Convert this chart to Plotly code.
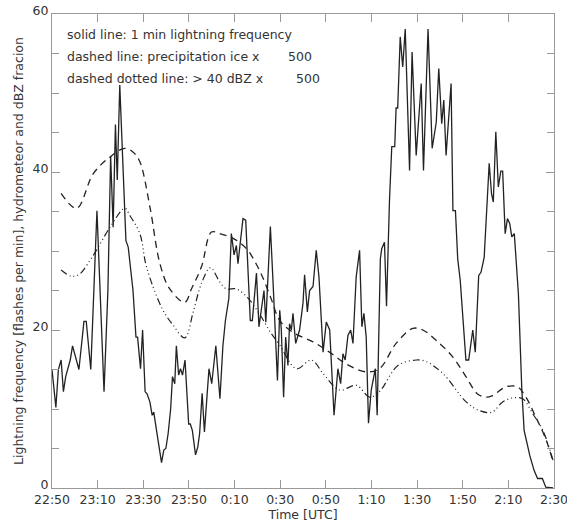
import plotly.graph_objects as go

# time in minutes after 22:50 UTC
tick_minutes = [0, 20, 40, 60, 80, 100, 120, 140, 160, 180, 200, 220]
tick_labels = ["22:50", "23:10", "23:30", "23:50", "0:10", "0:30", "0:50",
               "1:10", "1:30", "1:50", "2:10", "2:30"]

solid_t = [0, 1.7, 2.8, 4, 5, 6, 8, 9, 11.8, 14, 15, 17, 19.7, 22.8, 24.5, 25.7,
           26.8, 27.8, 28.6, 29.7, 32.4, 33.4, 35.5, 36.8, 37.5, 38.8, 39.7, 40.8,
           41.7, 42.9, 43.9, 44.6, 45.8, 47, 48, 49, 49.9, 50.9, 52, 52.8, 53.8,
           54.5, 55.5, 56.3, 57.2, 58.3, 59.9, 60.6, 61.5, 62.9, 63.9, 64.7, 65.8,
           66.8, 68.8, 70, 71.8, 73.6, 74.9, 76, 76.9, 77.5, 78.6, 79.8, 80.8, 81.5,
           82.3, 83.7, 84.9, 85.9, 86.9, 87.8, 89.6, 90.7, 91.8, 92.9, 93.7, 94.4,
           95.7, 96.9, 97.6, 98.8, 99.8, 100.5, 101.5, 102.4, 103.4, 104.1, 104.9,
           105.6, 106.8, 108.5, 110, 110.7, 111.9, 112.9, 114.4, 115.8, 117, 118.8,
           120.2, 121.7, 123.6, 125.3, 126.5, 127.5, 128.5, 129.7, 130.9, 131.9,
           133.3, 134.8, 135.8, 136.7, 137.7, 138.7, 139.9, 141.7, 142.5, 143.9,
           144.5, 145.7, 146.6, 147.9, 148.9, 150.2, 150.8, 151.5, 152.6, 153.7,
           154.8, 156.7, 157.8, 159.6, 161.8, 162.8, 164.8, 166.6, 168.4, 169.5,
           170.8, 171.7, 172.7, 174.9, 175.7, 176.8, 177.8, 178.9, 181.4, 182.6,
           184.4, 185.5, 187, 188, 189.4, 191.6, 192.6, 193.4, 194.5, 195.6, 196.7,
           197.5, 198.6, 199.6, 200.6, 201.5, 202.6, 203.3, 204.4, 205.9, 206.9,
           208.4, 209.4, 211.3, 212.8, 214.9, 216.4, 219.6]
solid_v = [15, 10.2, 15, 16.2, 12.2, 14.1, 16.2, 18, 15, 21.1, 21.1, 15, 35.1, 12.2,
           25, 42, 33, 46, 39, 51, 31.3, 30.5, 25, 19.1, 19.1, 15.1, 20, 12.2, 11.9,
           10.9, 9.2, 9.6, 7.3, 5, 3.2, 4.8, 5, 6.9, 10, 14.1, 13.2, 18, 14.3, 15.1,
           14.3, 16.2, 8.1, 8.1, 7.3, 4.2, 5.2, 6.9, 12, 7.1, 15.1, 13.2, 18, 11.3,
           18, 21.2, 22.7, 24, 32.2, 29.5, 30.7, 28.4, 30.5, 34.1, 33.9, 26.7, 21.2,
           21.2, 27.2, 20.4, 22.9, 25, 21, 25, 33.1, 25.9, 21.7, 13.6, 22.5, 20, 11.5,
           19.1, 15.5, 20.8, 20, 22.1, 18.3, 20, 23.4, 27, 22.3, 25, 25.5, 30.1, 26.7,
           17.2, 21, 20, 9.2, 15.1, 13.2, 17, 16.2, 19.3, 20, 18.3, 26.7, 30.1, 20.4,
           22.1, 19.1, 8.2, 12.4, 15.1, 9.2, 29, 30.3, 31.1, 23, 36.4, 43.2, 43.2,
           48.1, 48.1, 57.1, 53.3, 58.1, 40.2, 55.2, 42.1, 51.2, 40.2, 58.1, 43, 46.3,
           53.1, 46.1, 49.1, 42.1, 51.2, 35.1, 35.1, 29, 26.3, 16.2, 16.2, 20, 17.2,
           26.9, 27.3, 29.2, 41.1, 37.3, 36.2, 45.1, 38.1, 40.1, 40.1, 32.2, 34.1,
           33.5, 31.8, 32.2, 29, 24.6, 12.4, 7.3, 5.4, 4.1, 2.2, 1.2, 1.2, 0.1, 0]

ice_t = [4, 10.8, 18.1, 25.4, 31.9, 35.6, 38.5, 42.9, 47.3, 51.6, 58.2, 61.1, 65.5,
         69.9, 73.5, 79.4, 85.2, 91, 96, 99.8, 105.6, 114.4, 121.6, 128.9, 137.7,
         143.5, 150.8, 158.1, 162.5, 168.3, 175.6, 181.4, 186.5, 190.2, 193.1,
         198.9, 204, 207.7, 212, 216.4, 219.6]
ice_v = [37.3, 35.4, 39.8, 41.9, 43, 42.5, 41.3, 35.6, 28.4, 25.2, 23.5, 25.2, 28,
         32.4, 32.2, 31.6, 30.3, 27.5, 24, 21.2, 19.7, 18.5, 17.2, 15.7, 14.7, 15.1,
         18.3, 20.2, 20, 18.7, 16.6, 14.1, 11.9, 11.5, 11.7, 12.8, 12.8, 11.5, 9,
         6.2, 3.3]

dbz_t = [4, 8.6, 12.2, 16.6, 19.5, 25.4, 31.9, 34.1, 38.5, 41.4, 48.3, 53.1, 58.2,
         61.9, 65.5, 69.4, 73.5, 76.4, 80.8, 86, 91, 96, 99.8, 107.1, 113.7, 118.8,
         126.1, 133.4, 139.2, 143.5, 151.6, 159.6, 164, 171.3, 181.5, 187.3, 192.8,
         197.5, 201.9, 206.3, 210.7, 215.1, 219.6]
dbz_v = [27.6, 26.8, 27.1, 28.8, 30.1, 33, 35.4, 34.5, 32.2, 28, 22.7, 20.6, 19,
         22.3, 25.9, 27.9, 26.1, 25.2, 25.2, 24, 22, 19.6, 18.1, 15.1, 16.2, 14.5,
         12.4, 13, 11.5, 12.2, 15.5, 16.2, 16, 14.5, 10.9, 9.8, 9.6, 10.9, 11.4,
         11.3, 9.4, 7.3, 3.5]

legend_lines = ["solid line: 1 min lightning frequency",
                "dashed line: precipitation ice x",
                "dashed dotted line: > 40 dBZ x"]
legend_factors = ["500", "500"]

line_col = "#222222"
fig = go.Figure()
fig.add_trace(go.Scatter(x=solid_t, y=solid_v, mode="lines",
                         line=dict(color=line_col, width=1.3)))
fig.add_trace(go.Scatter(x=ice_t, y=ice_v, mode="lines", line_shape="spline",
                         line=dict(color=line_col, width=1.3, dash="7px,5px")))
fig.add_trace(go.Scatter(x=dbz_t, y=dbz_v, mode="lines", line_shape="spline",
                         line=dict(color=line_col, width=1.2,
                                   dash="7px,3px,1px,3px,1px,3px,1px,3px")))

family = "DejaVu Sans, Liberation Sans, sans-serif"
font = dict(family=family, size=12.5, color="#333333")
ann = []
for i, t in enumerate(legend_lines):
    ann.append(dict(x=13 / 502, y=1 - (20 + 22 * i) / 474, xref="paper", yref="paper",
                    text=t, showarrow=False, xanchor="left", yanchor="middle",
                    font=font))
for i, t in enumerate(legend_factors):
    ann.append(dict(x=(234 + 8 * i) / 502, y=1 - (42 + 22 * i) / 474, xref="paper",
                    yref="paper", text=t, showarrow=False, xanchor="left",
                    yanchor="middle", font=font))

axis_common = dict(showline=True, linecolor="#999999", linewidth=1, mirror="ticks",
                   ticks="inside", tickcolor="#999999", ticklen=8, showgrid=False,
                   zeroline=False, automargin=False, ticklabeloverflow="allow",
                   tickfont=dict(family=family, size=12.5, color="#333333"))
fig.update_layout(
    width=567, height=523, margin=dict(l=52, r=13, t=14, b=35),
    paper_bgcolor="white", plot_bgcolor="white", showlegend=False,
    annotations=ann,
    xaxis=dict(range=[0, 220], tickvals=tick_minutes, ticktext=tick_labels,
               title=dict(text="Time [UTC]", font=font, standoff=2),
               **axis_common),
    yaxis=dict(range=[0, 60], tickvals=[0, 20, 40, 60], ticklabelshift=-3,
               minor=dict(dtick=5, ticks="inside", ticklen=7, tickcolor="#999999"),
               title=dict(text="Lightning frequency [flashes per min], hydrometeor and dBZ fracion",
                          font=font, standoff=6),
               **axis_common),
)
fig.write_html("out.html", config={"displayModeBar": False},
               post_script="document.body.style.margin='0';document.body.style.overflow='hidden';")
